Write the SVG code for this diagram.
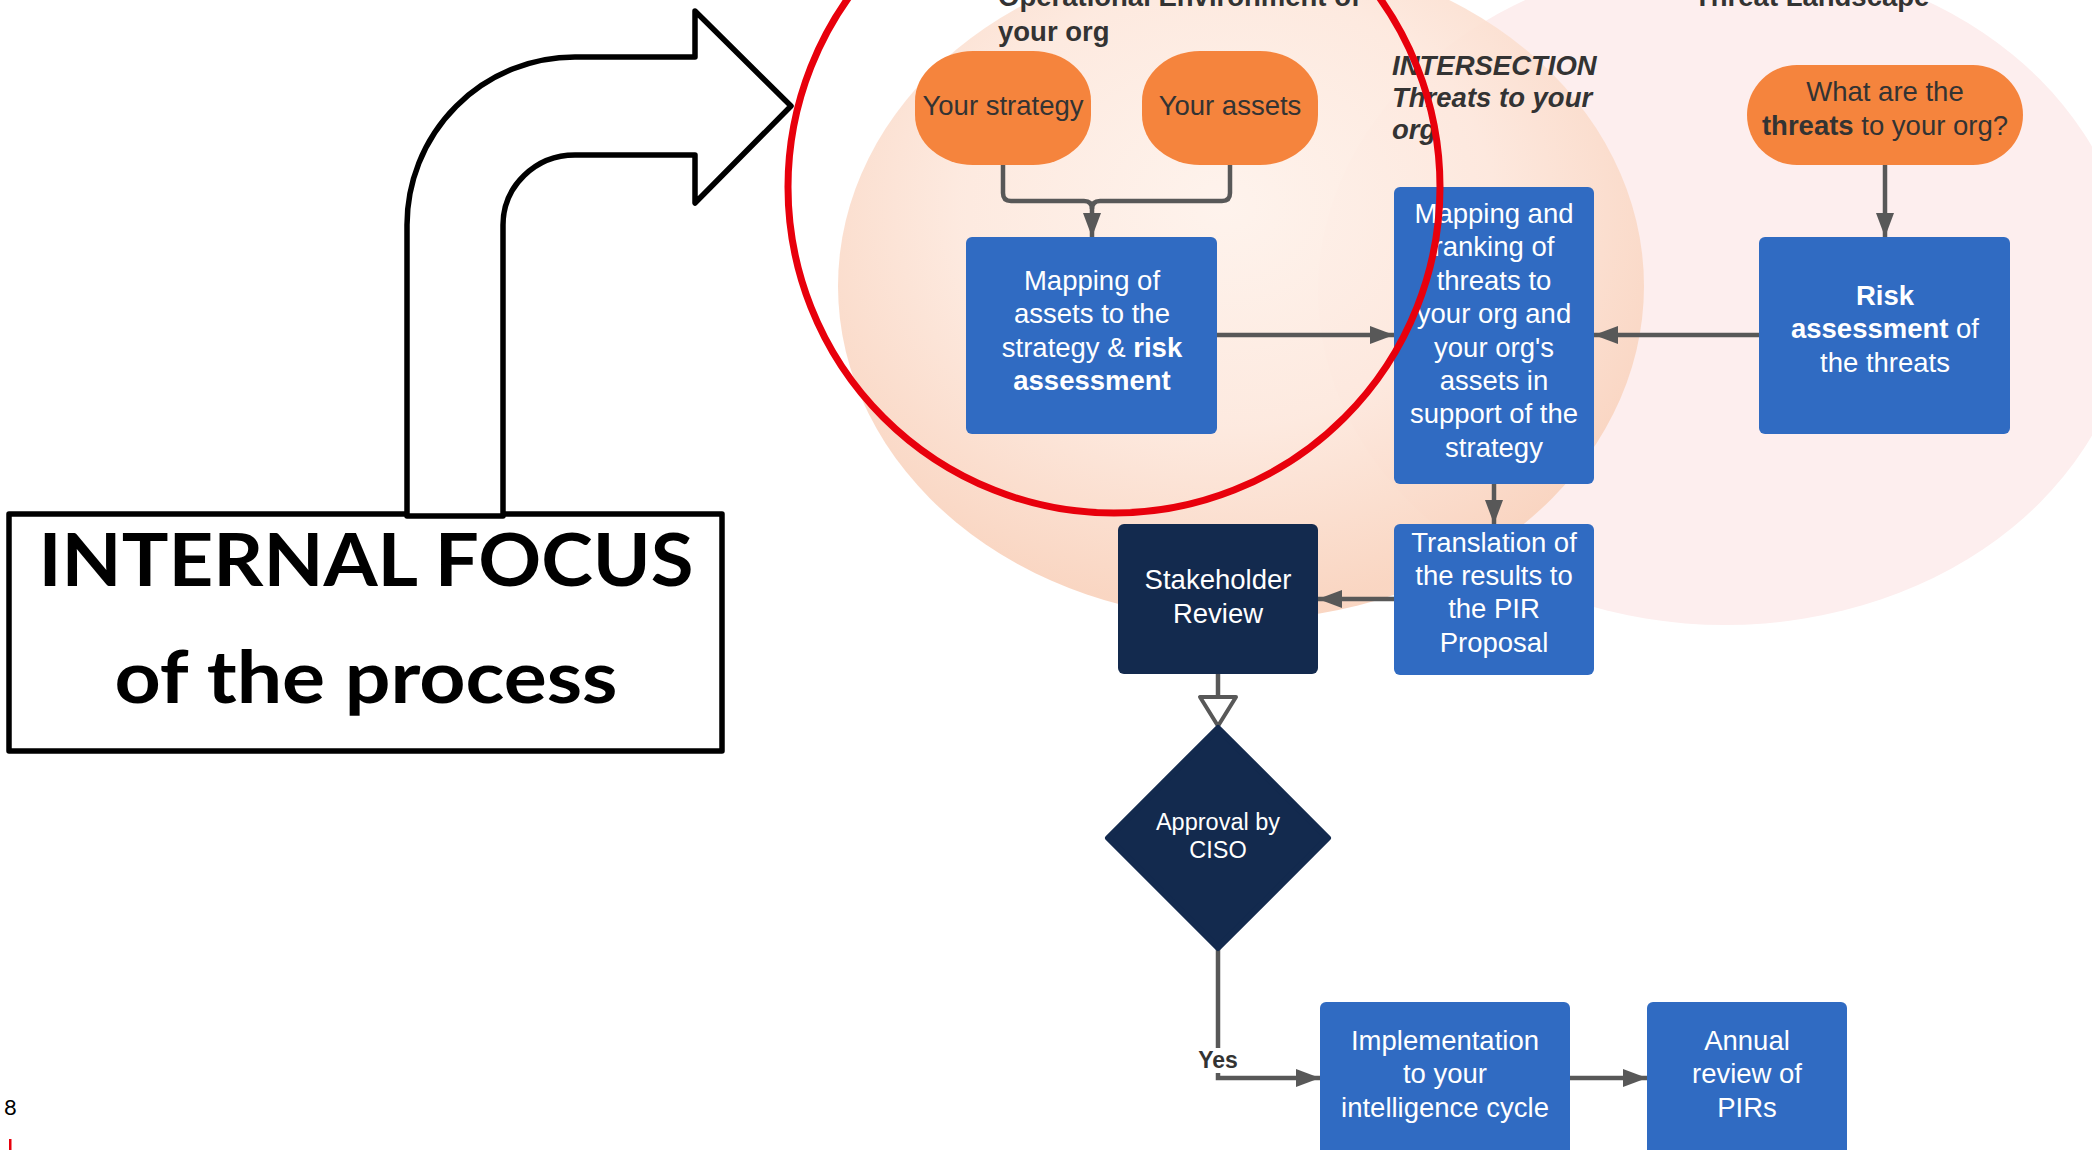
<svg xmlns="http://www.w3.org/2000/svg" width="2092" height="1150" viewBox="0 0 2092 1150">
  <defs>
    <radialGradient id="envGrad" cx="0.48" cy="0.38" r="0.6">
      <stop offset="0" stop-color="#fef2eb"/>
      <stop offset="0.55" stop-color="#fde8dd"/>
      <stop offset="1" stop-color="#f9d3be"/>
    </radialGradient>
    <marker id="arrow" markerUnits="userSpaceOnUse" markerWidth="26" markerHeight="20" refX="24" refY="9" orient="auto">
      <path d="M0,0 L24,9 L0,18 Z" fill="#585858"/>
    </marker>
    <style>
      .lbl { font-family: "Liberation Sans", Arial, sans-serif; font-size: 27.5px; fill: #ffffff; text-anchor: middle; }
      .small { font-size: 23.5px; }
      .dark { fill: #333333; }
      .hdr { font-family: "Liberation Sans", Arial, sans-serif; font-size: 27.5px; font-weight: bold; fill: #333333; }
      .yes { font-family: "Liberation Sans", Arial, sans-serif; font-size: 23px; font-weight: bold; fill: #333333; text-anchor: middle; }
      .b { font-weight: bold; }
      .blue { fill: #306bc2; }
      .navy { fill: #132a4e; }
      .pill { fill: #f5843d; }
      .conn { fill: none; stroke: #585858; stroke-width: 4.5; }
      .big { font-family: Lato, "Noto Sans", sans-serif; font-weight: 700; font-size: 72px; fill: #000000; text-anchor: middle; }
    </style>
  </defs>

  <rect width="2092" height="1150" fill="#ffffff"/>

  <!-- Venn background: threat landscape and operational environment -->
  <g id="venn">
    <ellipse cx="1725" cy="291" rx="407" ry="334" fill="#fdeeee"/>
    <ellipse cx="1241" cy="286" rx="403" ry="334" fill="url(#envGrad)" fill-opacity="0.93"/>
  </g>

  <!-- Region headings -->
  <g id="headings">
    <text class="hdr" x="998" y="6">Operational Environment of</text>
    <text class="hdr" x="998" y="41">your org</text>
    <text class="hdr" x="1694" y="6">Threat Landscape</text>
    <text class="hdr" font-style="italic" x="1392" y="75">INTERSECTION</text>
    <text class="hdr" font-style="italic" x="1392" y="107">Threats to your</text>
    <text class="hdr" font-style="italic" x="1392" y="139">org</text>
  </g>

  <!-- Connectors -->
  <g id="connectors">
    <path class="conn" d="M1003,165 V193 Q1003,201 1011,201 H1084 Q1092,201 1092,209 V237" marker-end="url(#arrow)"/>
    <path class="conn" d="M1230,165 V193 Q1230,201 1222,201 H1100 Q1092,201 1092,209"/>
    <path class="conn" d="M1217,335 H1394" marker-end="url(#arrow)"/>
    <path class="conn" d="M1885,165 V237" marker-end="url(#arrow)"/>
    <path class="conn" d="M1759,335 H1594" marker-end="url(#arrow)"/>
    <path class="conn" d="M1494,484 V524" marker-end="url(#arrow)"/>
    <path class="conn" d="M1394,599 H1318" marker-end="url(#arrow)"/>
    <path class="conn" d="M1218,674 V697"/>
    <polygon points="1200,697 1236,697 1218,726" fill="#ffffff" stroke="#585858" stroke-width="4" stroke-linejoin="round"/>
    <path class="conn" d="M1218,948 V1078 H1320" marker-end="url(#arrow)"/>
    <rect x="1195" y="1048" width="46" height="25" fill="#ffffff"/>
    <text class="yes" x="1218" y="1068">Yes</text>
    <path class="conn" d="M1570,1078 H1647" marker-end="url(#arrow)"/>
  </g>

  <!-- Nodes -->
  <g id="node-strategy">
    <rect class="pill" x="915" y="51" width="176" height="114" rx="58" ry="50"/>
    <text class="lbl dark" x="1003" y="115">Your strategy</text>
  </g>
  <g id="node-assets">
    <rect class="pill" x="1142" y="51" width="176" height="114" rx="58" ry="50"/>
    <text class="lbl dark" x="1230" y="115">Your assets</text>
  </g>
  <g id="node-threats-question">
    <rect class="pill" x="1747" y="65" width="276" height="100" rx="50"/>
    <text class="lbl dark" x="1885" y="101">What are the</text>
    <text class="lbl dark" x="1885" y="135"><tspan class="b">threats</tspan> to your org?</text>
  </g>
  <g id="node-asset-mapping">
    <rect class="blue" x="966" y="237" width="251" height="197" rx="6"/>
    <text class="lbl" x="1092" y="290">Mapping of</text>
    <text class="lbl" x="1092" y="323">assets to the</text>
    <text class="lbl" x="1092" y="357">strategy &amp; <tspan class="b">risk</tspan></text>
    <text class="lbl b" x="1092" y="390">assessment</text>
  </g>
  <g id="node-threat-mapping">
    <rect class="blue" x="1394" y="187" width="200" height="297" rx="6"/>
    <text class="lbl" x="1494" y="223">Mapping and</text>
    <text class="lbl" x="1494" y="256">ranking of</text>
    <text class="lbl" x="1494" y="290">threats to</text>
    <text class="lbl" x="1494" y="323">your org and</text>
    <text class="lbl" x="1494" y="357">your org's</text>
    <text class="lbl" x="1494" y="390">assets in</text>
    <text class="lbl" x="1494" y="423">support of the</text>
    <text class="lbl" x="1494" y="457">strategy</text>
  </g>
  <g id="node-risk-assessment">
    <rect class="blue" x="1759" y="237" width="251" height="197" rx="6"/>
    <text class="lbl b" x="1885" y="305">Risk</text>
    <text class="lbl" x="1885" y="338"><tspan class="b">assessment</tspan> of</text>
    <text class="lbl" x="1885" y="372">the threats</text>
  </g>
  <g id="node-translation">
    <rect class="blue" x="1394" y="524" width="200" height="151" rx="6"/>
    <text class="lbl" x="1494" y="552">Translation of</text>
    <text class="lbl" x="1494" y="585">the results to</text>
    <text class="lbl" x="1494" y="618">the PIR</text>
    <text class="lbl" x="1494" y="652">Proposal</text>
  </g>
  <g id="node-stakeholder">
    <rect class="navy" x="1118" y="524" width="200" height="150" rx="6"/>
    <text class="lbl" x="1218" y="589">Stakeholder</text>
    <text class="lbl" x="1218" y="623">Review</text>
  </g>
  <g id="node-approval">
    <path class="navy" d="M1218,728 L1328,838 L1218,948 L1108,838 Z" stroke="#132a4e" stroke-width="6" stroke-linejoin="round"/>
    <text class="lbl small" x="1218" y="830">Approval by</text>
    <text class="lbl small" x="1218" y="858">CISO</text>
  </g>
  <g id="node-implementation">
    <rect class="blue" x="1320" y="1002" width="250" height="160" rx="6"/>
    <text class="lbl" x="1445" y="1050">Implementation</text>
    <text class="lbl" x="1445" y="1083">to your</text>
    <text class="lbl" x="1445" y="1117">intelligence cycle</text>
  </g>
  <g id="node-annual-review">
    <rect class="blue" x="1647" y="1002" width="200" height="160" rx="6"/>
    <text class="lbl" x="1747" y="1050">Annual</text>
    <text class="lbl" x="1747" y="1083">review of</text>
    <text class="lbl" x="1747" y="1117">PIRs</text>
  </g>

  <!-- Highlight ring around the internal part -->
  <g id="highlight">
    <circle cx="1114" cy="187" r="326" fill="none" stroke="#e8000c" stroke-width="7"/>
  </g>

  <!-- Callout box and bent arrow -->
  <g id="callout">
    <rect x="9" y="514" width="713" height="237" fill="#ffffff" stroke="#000000" stroke-width="5.5" stroke-linejoin="round"/>
    <path d="M407,516 V225 A168,168 0 0 1 575,57 H695 V11 L791,106 L695,203 V155 H575 A72,70 0 0 0 503,225 V516 Z" fill="#ffffff" stroke="#000000" stroke-width="5.5" stroke-linejoin="round"/>
    <text class="big" x="366" y="586" textLength="655" lengthAdjust="spacingAndGlyphs">INTERNAL FOCUS</text>
    <text class="big" x="366" y="703" textLength="503" lengthAdjust="spacingAndGlyphs">of the process</text>
  </g>

  <!-- Page footer -->
  <g id="footer">
    <text x="4" y="1115" font-family="Lato, 'Liberation Sans', sans-serif" font-size="22" fill="#000000">8</text>
    <rect x="9" y="1139" width="2.5" height="11" fill="#e8000c"/>
  </g>
</svg>
